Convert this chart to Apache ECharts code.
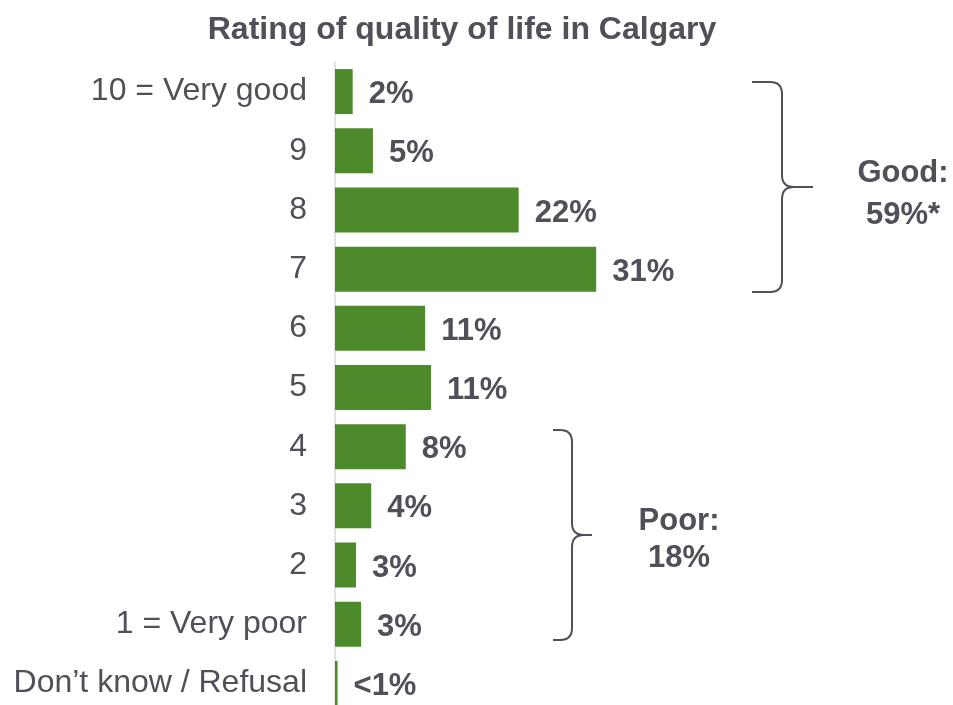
<!DOCTYPE html>
<html>
<head>
<meta charset="utf-8">
<script src="https://cdn.jsdelivr.net/npm/echarts@6/dist/echarts.min.js"></script>
<style>
  html, body { margin: 0; padding: 0; background: #fff; }
  #chart { width: 953px; height: 705px; }
</style>
</head>
<body>
<div id="chart"></div>
<script>
// rating categories, top to bottom
var categories = ["10 = Very good", "9", "8", "7", "6", "5", "4", "3", "2", "1 = Very poor", "Don\u2019t know / Refusal"];
// shares in %
var values = [2.1, 4.5, 21.8, 31.0, 10.7, 11.4, 8.4, 4.3, 2.5, 3.1, 0.3];
// printed labels
var valueLabels = ["2%", "5%", "22%", "31%", "11%", "11%", "8%", "4%", "3%", "3%", "<1%"];

var textColor = "#4f5058";
var font = "'Liberation Sans', Arial, sans-serif";

var chart = echarts.init(document.getElementById("chart"));

// curly brace made of lines and quadratic curves, tip to the right
function brace(x0, xv, xt, y0, y1) {
  var ym = (y0 + y1) / 2;
  var r = 12;
  var st = { stroke: "#4f5058", lineWidth: 2, fill: null };
  function line(a, b, c, d) {
    return { type: "line", shape: { x1: a, y1: b, x2: c, y2: d }, style: st };
  }
  function curve(a, b, cx, cy, c, d) {
    return { type: "bezierCurve", shape: { x1: a, y1: b, cpx1: cx, cpy1: cy, x2: c, y2: d }, style: st };
  }
  return [
    line(x0, y0, xv - r, y0),
    curve(xv - r, y0, xv, y0, xv, y0 + r),
    line(xv, y0 + r, xv, ym - r),
    curve(xv, ym - r, xv, ym, xv + r, ym),
    line(xv + r, ym, xt, ym),
    curve(xv + r, ym, xv, ym, xv, ym + r),
    line(xv, ym + r, xv, y1 - r),
    curve(xv, y1 - r, xv, y1, xv - r, y1),
    line(xv - r, y1, x0, y1)
  ];
}

var graphics = [].concat(
  brace(752, 782, 813, 82, 292),
  brace(553, 572, 592, 430, 640),
  [
    {
      type: "text",
      x: 903, y: 152,
      style: {
        text: "Good:\n59%*", align: "center",
        fill: textColor, font: "bold 31px " + font, lineHeight: 42
      }
    },
    {
      type: "text",
      x: 679, y: 503,
      style: {
        text: "Poor:\n18%", align: "center",
        fill: textColor, font: "bold 31px " + font, lineHeight: 37
      }
    }
  ]
);

var option = {
  backgroundColor: "#fff",
  animation: false,
  title: {
    text: "Rating of quality of life in Calgary",
    left: 457,
    textAlign: "center",
    top: 9,
    textStyle: { color: textColor, fontSize: 32, fontWeight: "bold", fontFamily: font }
  },
  grid: { left: 335, right: 281, top: 62, bottom: -8, containLabel: false, outerBoundsMode: "none" },
  xAxis: {
    type: "value",
    min: 0,
    max: 40,
    show: false
  },
  yAxis: {
    type: "category",
    inverse: true,
    data: categories,
    axisLine: { show: true, lineStyle: { color: "#d9d9d9", width: 1.5 } },
    axisTick: { show: false },
    axisLabel: { color: textColor, fontSize: 32, fontFamily: font, margin: 28, padding: [6, 0, 0, 0] }
  },
  series: [{
    type: "bar",
    data: values,
    barCategoryGap: "24%",
    itemStyle: { color: "#4c8a2b" },
    label: {
      show: true,
      position: "right",
      distance: 16,
      offset: [0, 3],
      color: textColor,
      fontSize: 31,
      fontWeight: "bold",
      fontFamily: font,
      formatter: function (p) { return valueLabels[p.dataIndex]; }
    }
  }],
  graphic: graphics
};

chart.setOption(option);
</script>
</body>
</html>
